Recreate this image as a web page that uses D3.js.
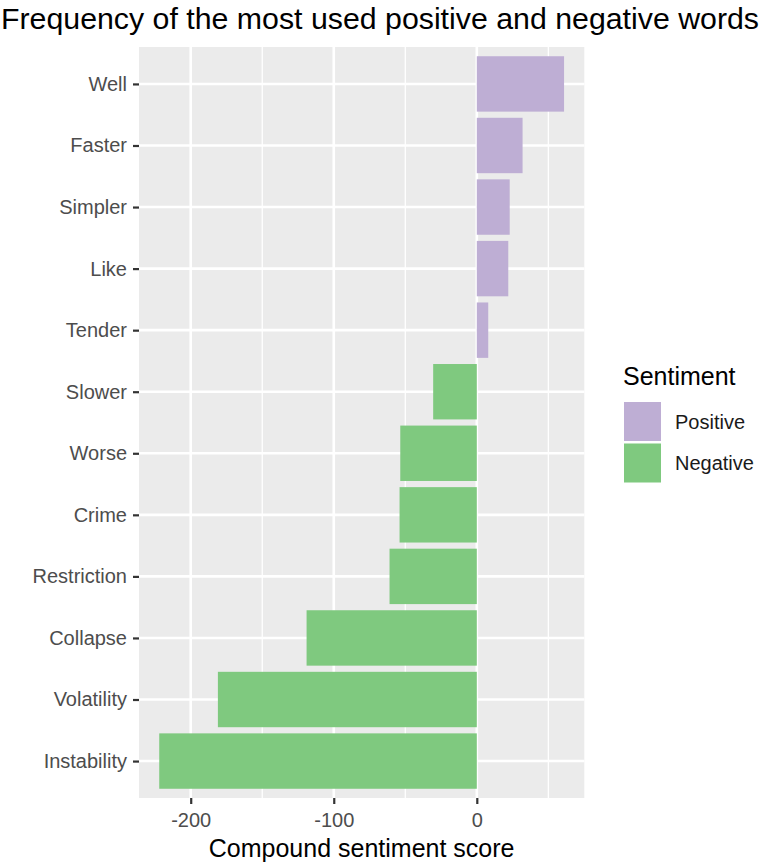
<!DOCTYPE html>
<html>
<head>
<meta charset="utf-8">
<script src="https://cdn.jsdelivr.net/npm/d3@7"></script>
<style>
  body { margin: 0; background: #fff; }
  text { font-family: "Liberation Sans", Arial, sans-serif; }
</style>
</head>
<body>
<div id="chart"></div>
<script>
const words = ["Well", "Faster", "Simpler", "Like", "Tender", "Slower", "Worse", "Crime",
  "Restriction", "Collapse", "Volatility", "Instability"];
const scores = [61, 32, 23, 22, 8, -30.5, -53.5, -54, -61, -119, -181, -222];
const sentiments = ["Positive", "Positive", "Positive", "Positive", "Positive", "Negative",
  "Negative", "Negative", "Negative", "Negative", "Negative", "Negative"];
const legendKeys = ["Positive", "Negative"];
const majorTicks = [-200, -100, 0];
const minorTicks = [-150, -50, 50];

const width = 762, height = 866;
const marginLeft = 139, marginRight = 177.7, marginTop = 47, marginBottom = 68;

const svg = d3.select("#chart").append("svg")
  .attr("width", width)
  .attr("height", height);

const data = words.map((w, i) => ({ word: w, score: scores[i], sentiment: sentiments[i] }));

const lo = d3.min(scores), hi = d3.max(scores);
const pad = (hi - lo) * 0.05;
const x = d3.scaleLinear()
  .domain([lo - pad, hi + pad])
  .range([marginLeft, width - marginRight]);

// ggplot discrete axis: centres, 0.6 expansion on each side
const y = d3.scalePoint()
  .domain(words)
  .range([marginTop, height - marginBottom])
  .padding(0.6);
const barH = y.step() * 0.9;

const color = d3.scaleOrdinal()
  .domain(legendKeys)
  .range(["#BEAED4", "#7FC97F"]);

// panel
svg.append("rect")
  .attr("x", marginLeft)
  .attr("y", marginTop)
  .attr("width", width - marginRight - marginLeft)
  .attr("height", height - marginBottom - marginTop)
  .attr("fill", "#EBEBEB");

const grid = svg.append("g");
grid.selectAll(".minor")
  .data(minorTicks)
  .enter().append("line")
  .attr("x1", d => x(d)).attr("x2", d => x(d))
  .attr("y1", marginTop).attr("y2", height - marginBottom)
  .attr("stroke", "#fff").attr("stroke-width", 1.3);
grid.selectAll(".major")
  .data(majorTicks)
  .enter().append("line")
  .attr("x1", d => x(d)).attr("x2", d => x(d))
  .attr("y1", marginTop).attr("y2", height - marginBottom)
  .attr("stroke", "#fff").attr("stroke-width", 2.6);
grid.selectAll(".hline")
  .data(words)
  .enter().append("line")
  .attr("x1", marginLeft).attr("x2", width - marginRight)
  .attr("y1", d => y(d)).attr("y2", d => y(d))
  .attr("stroke", "#fff").attr("stroke-width", 2.6);

// bars
svg.selectAll(".bar")
  .data(data)
  .enter().append("rect")
  .attr("class", "bar")
  .attr("x", d => x(Math.min(0, d.score)))
  .attr("width", d => Math.abs(x(d.score) - x(0)))
  .attr("y", d => y(d.word) - barH / 2)
  .attr("height", barH)
  .attr("fill", d => color(d.sentiment));

// axes
const xAxis = svg.append("g")
  .attr("transform", `translate(0,${height - marginBottom})`)
  .call(d3.axisBottom(x).tickValues(majorTicks).tickFormat(d => String(d))
    .tickSize(6).tickPadding(8.5));
const yAxis = svg.append("g")
  .attr("transform", `translate(${marginLeft},0)`)
  .call(d3.axisLeft(y).tickSize(6).tickPadding(6));

[xAxis, yAxis].forEach(a => {
  a.select(".domain").remove();
  a.selectAll(".tick line").attr("stroke", "#333").attr("stroke-width", 2.2);
  a.selectAll(".tick text")
    .attr("fill", "#4D4D4D")
    .style("font-size", "20px");
});

svg.append("text")
  .attr("x", (marginLeft + width - marginRight) / 2)
  .attr("y", 857)
  .attr("text-anchor", "middle")
  .style("font-size", "25px")
  .attr("fill", "#000")
  .text("Compound sentiment score");

svg.append("text")
  .attr("x", 1)
  .attr("y", 28.5)
  .style("font-size", "30px")
  .attr("textLength", 758)
  .attr("lengthAdjust", "spacingAndGlyphs")
  .attr("fill", "#000")
  .text("Frequency of the most used positive and negative words");

// legend
const legend = svg.append("g").attr("transform", "translate(623,0)");
legend.append("text")
  .attr("x", 0)
  .attr("y", 385)
  .style("font-size", "25px")
  .text("Sentiment");
const keys = legend.selectAll(".key")
  .data(legendKeys)
  .enter().append("g")
  .attr("transform", (d, i) => `translate(1,${402 + i * 41.5})`);
keys.append("rect")
  .attr("width", 37)
  .attr("height", 39)
  .attr("fill", d => color(d));
keys.append("text")
  .attr("x", 51)
  .attr("y", 26.5)
  .style("font-size", "20px")
  .attr("fill", "#1a1a1a")
  .text(d => d);
</script>
</body>
</html>
